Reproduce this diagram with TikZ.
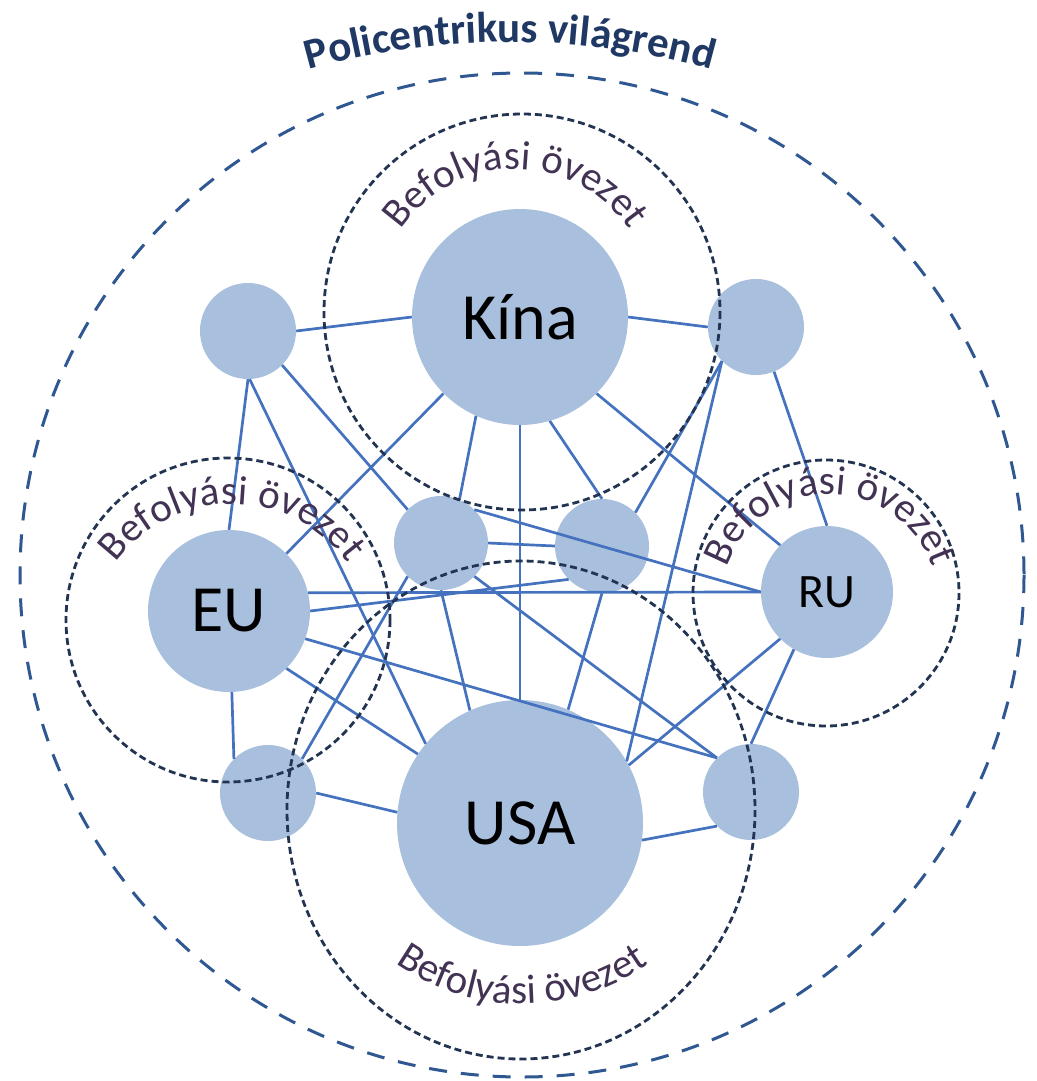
\documentclass[tikz,border=0pt]{standalone}
\usepackage{fontspec}
\setmainfont{Carlito}
\usetikzlibrary{decorations.text}

\definecolor{korkek}{RGB}{168,191,221}
\definecolor{vonalkek}{RGB}{68,114,190}
\definecolor{zonaszin}{RGB}{34,52,82}
\definecolor{kulsoszin}{RGB}{47,87,145}
\definecolor{feliratszin}{RGB}{66,50,84}
\definecolor{cimszin}{RGB}{31,56,100}

\newcommand\nagybetu{\fontsize{66}{66}\selectfont}
\newcommand\zonabetu{\fontsize{41}{41}\selectfont}
\newcommand\cimbetu{\fontsize{43}{43}\selectfont\bfseries}

\tikzset{
  orszag/.style={circle, fill=korkek, inner sep=0pt, font=\nagybetu},
  kiskor/.style={circle, fill=korkek, inner sep=0pt, minimum size=96pt},
  kapcs/.style={draw=vonalkek, line width=2.7pt},
  ovezet/.style={draw=zonaszin, line width=2.8pt, dash pattern=on 7pt off 4pt},
  ivfelirat/.style={decorate, decoration={text along path, text align=center,
      text color=feliratszin, text={|\zonabetu|Befolyási övezet}}}
}

\begin{document}
\begin{tikzpicture}[x=1pt, y=-1pt]
        \useasboundingbox (0,0) rectangle (1036,1081);

        % === Országok ===
        \node[orszag, minimum size=216pt] (kina) at (520,317) {Kína};
        \node[orszag, minimum size=162pt] (eu) at (229,611) {EU};
        \node[orszag, minimum size=246pt] (usa) at (520,823) {USA};
        \node[orszag, minimum size=132pt, font=\fontsize{48}{48}\selectfont] (ru) at (827,592) {RU};

        % Kis államok
        \node[kiskor] (k1) at (248,331) {};
        \node[kiskor] (k2) at (756,327) {};
        \node[kiskor, minimum size=94pt] (k3) at (441,543) {};
        \node[kiskor, minimum size=94pt] (k4) at (602,546) {};
        \node[kiskor] (k5) at (268,793) {};
        \node[kiskor] (k6) at (751,792) {};

        % === Kapcsolatok ===
        \draw[kapcs] (k1.east) -- (kina.west);
        \draw[kapcs] (kina.east) -- (k2.west);
        \draw[kapcs] (k1.south) -- (eu.north);
        \draw[kapcs] (k1.-88) -- (usa.140);
        \draw[kapcs] (k1.south east) -- (k3.north west);
        \draw[kapcs] (kina.south west) -- (eu.north east);
        \draw[kapcs] (kina.246) -- (k3.67);
        \draw[kapcs] (kina.south) -- (usa.north);
        \draw[kapcs] (kina.-74) -- (k4.north);
        \draw[kapcs] (kina.south east) -- (ru.north west);
        \draw[kapcs] (k2.south west) -- (k4.north east);
        \draw[kapcs] (k2.south west) -- (usa.30);
        \draw[kapcs] (k2.-68) -- (ru.north);
        \draw[kapcs] (eu.13) -- (ru.west);
        \draw[kapcs] (eu.east) -- (k4.south west);
        \draw[kapcs] (eu.-20) -- (k6.north west);
        \draw[kapcs] (eu.south east) -- (usa.146);
        \draw[kapcs] (eu.-88) -- (k5.135);
        \draw[kapcs] (k3.east) -- (k4.west);
        \draw[kapcs] (k3.north east) -- (ru.west);
        \draw[kapcs] (k3.south) -- (usa.114);
        \draw[kapcs] (k3.south east) -- (k6.north west);
        \draw[kapcs] (k4.south) -- (usa.67);
        \draw[kapcs] (usa.28) -- (ru.south west);
        \draw[kapcs] (ru.-120) -- (k6.north);
        \draw[kapcs] (k6.south west) -- (usa.-8);
        \draw[kapcs] (k5.east) -- (usa.175);
        \draw[kapcs] (k5.north east) -- (k3.south west);

        % === Befolyási övezetek ===
        \draw[ovezet] (522,312) circle[radius=198];
        \draw[ovezet] (228,620) circle[radius=162];
        \draw[ovezet] (826,593) circle[radius=133];
        \draw[ovezet] (521,810) ellipse[x radius=234, y radius=249];

        % Világrend
        \draw[draw=kulsoszin, line width=3pt, dash pattern=on 18pt off 14pt] (522,575) circle[radius=502];

        % Feliratok
        \path[ivfelirat] (515,307) ++(-180:138) arc[start angle=-180, end angle=0, radius=138];
        \path[ivfelirat] (232,647) ++(-180:143) arc[start angle=-180, end angle=0, radius=143];
        \path[ivfelirat] (830,603) ++(-180:109) arc[start angle=-180, end angle=0, radius=109];
        \path[ivfelirat] (522,785) ++(180:219) arc[start angle=180, end angle=0, radius=219];
        \path[decorate, decoration={text along path, text align=center, text color=cimszin,
            text={|\cimbetu|Policentrikus világrend}}]
            (510,780) ++(-120:738) arc[start angle=-120, end angle=-60, radius=738];

\end{tikzpicture}
\end{document}
